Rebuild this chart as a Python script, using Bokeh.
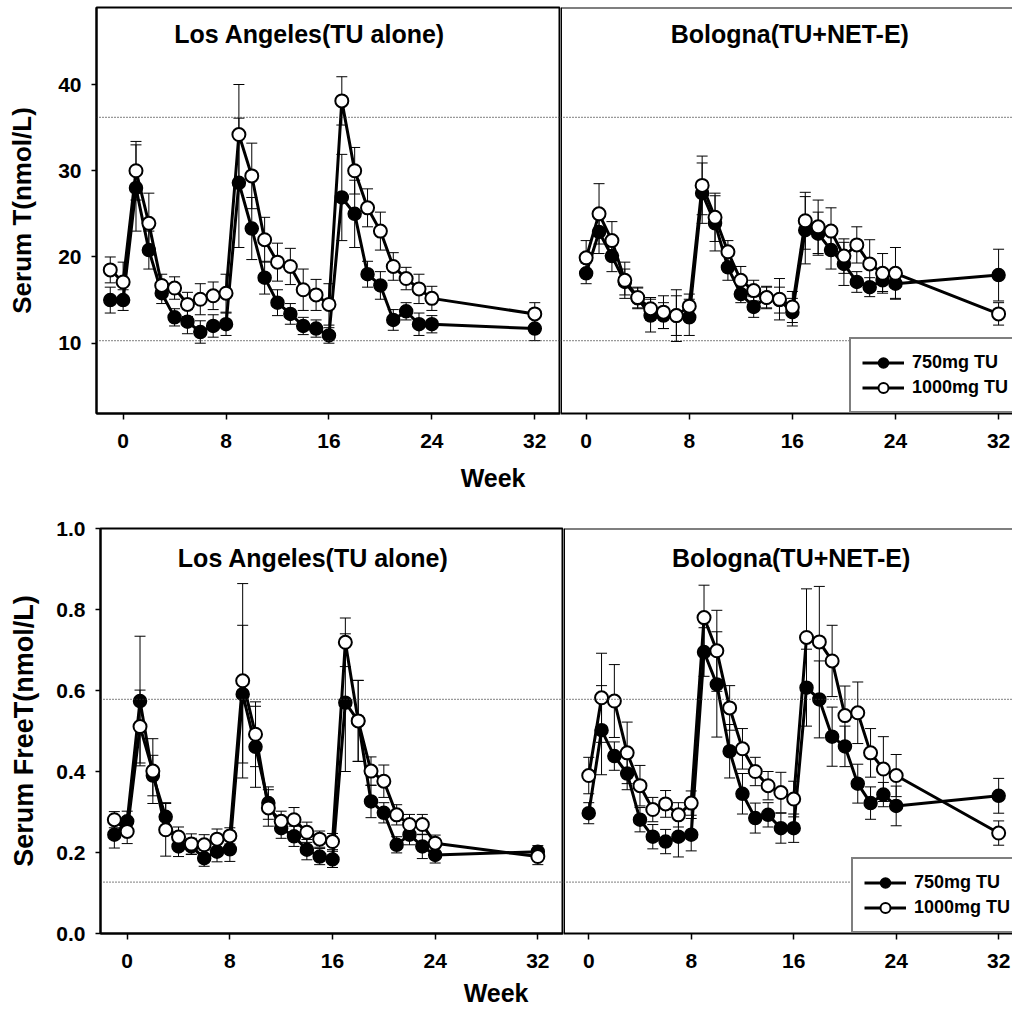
from bokeh.plotting import figure
from bokeh.layouts import column, row
from bokeh.models import (Whisker, ColumnDataSource, Span, Label, Legend, LegendItem, Title,
                          FixedTicker, TeeHead, PrintfTickFormatter)
from bokeh.embed import file_html
from bokeh.resources import INLINE

FONT = "Liberation Sans"

# ---------------- data ----------------
weeks_la = [-1, 0, 1, 2, 3, 4, 5, 6, 7, 8, 9, 10, 11, 12, 13, 14, 15, 16, 17, 18, 19, 20, 21, 22, 23, 24, 32]
weeks_bo = [0, 1, 2, 3, 4, 5, 6, 7, 8, 9, 10, 11, 12, 13, 14, 15, 16, 17, 18, 19, 20, 21, 22, 23, 24, 32]

# Serum T (nmol/L), Los Angeles
t_la_750 = [15.0, 15.0, 28.0, 20.8, 15.8, 13.0, 12.5, 11.3, 12.0, 12.2, 28.6, 23.3, 17.6, 14.7, 13.4, 12.0,
            11.7, 10.9, 26.9, 25.0, 18.0, 16.7, 12.7, 13.7, 12.2, 12.2, 11.7]
t_la_750_se = [1.5, 1.2, 5.0, 2.2, 1.2, 1.0, 1.4, 1.3, 1.3, 1.3, 7.5, 3.6, 1.9, 1.5, 1.2, 1.0,
               1.0, 0.9, 5.0, 3.9, 1.5, 1.6, 1.2, 1.0, 1.3, 1.0, 1.4]
t_la_1000 = [18.5, 17.1, 30.0, 23.9, 16.7, 16.4, 14.5, 15.1, 15.5, 15.8, 34.2, 29.4, 22.0, 19.4, 18.9, 16.2,
             15.6, 14.5, 38.1, 30.0, 25.7, 23.0, 18.9, 17.5, 16.3, 15.2, 13.4]
t_la_1000_se = [1.5, 2.3, 3.4, 3.5, 1.3, 1.3, 1.4, 1.8, 1.6, 2.2, 5.8, 3.8, 2.6, 2.2, 2.1, 2.4,
                1.8, 2.4, 2.8, 2.7, 2.2, 2.2, 1.6, 1.3, 1.7, 1.4, 1.3]

# Serum T (nmol/L), Bologna
t_bo_750 = [18.1, 22.9, 20.1, 17.1, 15.2, 13.2, 13.2, 13.2, 13.0, 27.4, 23.9, 18.8, 15.7, 14.2, 15.3, 15.0,
            13.6, 23.1, 22.7, 20.8, 19.2, 17.1, 16.5, 17.3, 16.9, 17.9]
t_bo_750_se = [1.2, 2.5, 1.8, 1.5, 1.2, 1.9, 1.5, 2.3, 2.1, 3.5, 3.2, 1.5, 1.0, 1.2, 1.2, 1.5,
               1.6, 3.9, 2.5, 2.2, 2.5, 1.2, 1.1, 1.3, 1.7, 3.0]
t_bo_1000 = [19.9, 25.0, 21.9, 17.3, 15.3, 14.0, 13.6, 13.2, 14.3, 28.3, 24.6, 20.6, 17.3, 16.1, 15.3, 15.1,
             14.2, 24.2, 23.5, 23.0, 20.1, 21.4, 19.2, 18.1, 18.1, 13.4]
t_bo_1000_se = [2.0, 3.5, 2.2, 2.1, 1.2, 1.3, 1.9, 3.0, 1.4, 3.4, 2.8, 1.3, 1.6, 1.2, 1.3, 2.4,
                1.8, 3.3, 3.1, 2.7, 2.0, 2.1, 2.8, 2.3, 3.0, 1.3]

# Serum Free T (nmol/L), Los Angeles
ft_la_750 = [0.244, 0.277, 0.574, 0.390, 0.288, 0.215, 0.215, 0.186, 0.202, 0.208, 0.591, 0.461, 0.322, 0.260,
             0.240, 0.207, 0.190, 0.183, 0.570, 0.525, 0.326, 0.298, 0.219, 0.244, 0.215, 0.194, 0.202]
ft_la_750_se = [0.033, 0.025, 0.16, 0.05, 0.035, 0.025, 0.02, 0.02, 0.025, 0.03, 0.17, 0.10, 0.04, 0.025,
                0.025, 0.025, 0.02, 0.02, 0.17, 0.10, 0.04, 0.025, 0.02, 0.025, 0.03, 0.02, 0.015]
ft_la_1000 = [0.281, 0.252, 0.511, 0.401, 0.256, 0.238, 0.221, 0.219, 0.233, 0.241, 0.624, 0.492, 0.310, 0.277,
              0.281, 0.250, 0.233, 0.227, 0.719, 0.525, 0.401, 0.376, 0.293, 0.269, 0.269, 0.223, 0.190]
ft_la_1000_se = [0.02, 0.03, 0.09, 0.08, 0.065, 0.025, 0.025, 0.025, 0.025, 0.02, 0.24, 0.08, 0.045, 0.025,
                 0.03, 0.025, 0.02, 0.02, 0.06, 0.10, 0.035, 0.04, 0.025, 0.025, 0.025, 0.02, 0.02]

# Serum Free T (nmol/L), Bologna
ft_bo_750 = [0.297, 0.502, 0.438, 0.395, 0.281, 0.239, 0.227, 0.239, 0.244, 0.695, 0.615, 0.450, 0.345, 0.285,
             0.293, 0.260, 0.260, 0.607, 0.578, 0.486, 0.462, 0.370, 0.322, 0.343, 0.315, 0.340]
ft_bo_750_se = [0.026, 0.11, 0.035, 0.04, 0.03, 0.03, 0.03, 0.05, 0.04, 0.06, 0.13, 0.066, 0.05, 0.037,
                0.03, 0.037, 0.035, 0.095, 0.095, 0.073, 0.05, 0.048, 0.04, 0.03, 0.049, 0.043]
ft_bo_1000 = [0.390, 0.582, 0.574, 0.446, 0.365, 0.306, 0.320, 0.293, 0.322, 0.780, 0.698, 0.557, 0.456, 0.400,
              0.365, 0.348, 0.332, 0.731, 0.720, 0.673, 0.538, 0.545, 0.446, 0.406, 0.390, 0.248]
ft_bo_1000_se = [0.045, 0.11, 0.09, 0.076, 0.05, 0.03, 0.033, 0.03, 0.03, 0.08, 0.10, 0.055, 0.05, 0.035,
                 0.035, 0.05, 0.044, 0.12, 0.137, 0.088, 0.073, 0.076, 0.06, 0.08, 0.052, 0.03]

t_ref = [36.2, 10.3]
ft_ref = [0.578, 0.127]

x_ticks = [0, 8, 16, 24, 32]
t_ticks = [10, 20, 30, 40]
ft_ticks = [0.0, 0.2, 0.4, 0.6, 0.8, 1.0]

series_labels = ["750mg TU", "1000mg TU"]
titles = ["Los Angeles(TU alone)", "Bologna(TU+NET-E)"]
x_title = "Week"


def style_xaxis(p):
    ax = p.xaxis[0]
    ax.ticker = FixedTicker(ticks=x_ticks)
    ax.minor_tick_line_color = None
    ax.major_tick_in = 0
    ax.major_tick_out = 6
    ax.major_tick_line_width = 1.5
    ax.major_tick_line_color = "black"
    ax.axis_line_width = 2
    ax.axis_line_color = "black"
    ax.major_label_standoff = 14
    ax.major_label_text_font = FONT
    ax.major_label_text_font_size = "21px"
    ax.major_label_text_font_style = "bold"
    ax.major_label_text_color = "black"


def make_panel(width, height, xr, yr, mb_left, mb_top, mb_bottom, left, ylabel=None, yticks=None,
               yfmt=None, label_standoff=16, label_size="26px"):
    p = figure(width=width, height=height, x_range=xr, y_range=yr, output_backend="svg",
               toolbar_location=None, min_border=0, min_border_left=mb_left, min_border_right=0,
               min_border_top=mb_top, min_border_bottom=mb_bottom,
               y_axis_location="left" if left else None)
    p.xgrid.visible = False
    p.ygrid.visible = False
    p.background_fill_color = "white"
    p.border_fill_color = "white"
    if left:
        p.outline_line_color = "black"
        p.outline_line_width = 2
        ay = p.yaxis[0]
        ay.ticker = FixedTicker(ticks=yticks)
        if yfmt:
            ay.formatter = PrintfTickFormatter(format=yfmt)
        ay.minor_tick_line_color = None
        ay.major_tick_in = 0
        ay.major_tick_out = 5
        ay.major_tick_line_width = 1.5
        ay.axis_line_width = 2
        ay.axis_line_color = "black"
        ay.major_label_standoff = 10
        ay.major_label_text_font = FONT
        ay.major_label_text_font_size = "21px"
        ay.major_label_text_font_style = "bold"
        ay.major_label_text_color = "black"
        ay.axis_label = ylabel
        ay.axis_label_text_font = FONT
        ay.axis_label_text_font_size = label_size
        ay.axis_label_text_font_style = "bold"
        ay.axis_label_text_color = "black"
        ay.axis_label_standoff = label_standoff
    else:
        p.outline_line_color = None
        p.add_layout(Span(location=yr[1], dimension="width", line_color="black", line_width=2))
        p.add_layout(Span(location=xr[0], dimension="height", line_color="black", line_width=3))
    style_xaxis(p)
    return p


def add_series(p, weeks, y750, se750, y1000, se1000, refs):
    for r in refs:
        p.add_layout(Span(location=r, dimension="width", line_color="#333333", line_width=1.2,
                          line_dash="1 2"))
    for ys, se in ((y750, se750), (y1000, se1000)):
        src = ColumnDataSource(dict(x=weeks, lo=[a - b for a, b in zip(ys, se)],
                                    hi=[a + b for a, b in zip(ys, se)]))
        p.add_layout(Whisker(source=src, base="x", upper="hi", lower="lo", line_color="black",
                             line_width=1,
                             upper_head=TeeHead(size=11, line_color="black", line_width=1),
                             lower_head=TeeHead(size=11, line_color="black", line_width=1)))
    lf = p.line(weeks, y750, line_width=3, line_color="black")
    sf = p.scatter(weeks, y750, marker="circle", size=13, fill_color="black", line_color="black",
                   line_width=1.5)
    lo = p.line(weeks, y1000, line_width=3, line_color="black")
    so = p.scatter(weeks, y1000, marker="circle", size=13, fill_color="white", line_color="black",
                   line_width=2)
    return [lf, sf], [lo, so]


def add_title(p, x, y, text):
    p.add_layout(Label(x=x, y=y, text=text, text_align="center", text_baseline="middle",
                       text_font=FONT, text_font_size="25px", text_font_style="bold",
                       text_color="black"))


def add_week(p, offset, standoff):
    p.add_layout(Title(text=x_title, align="right", offset=offset, standoff=standoff,
                       text_font=FONT, text_font_size="25px", text_font_style="bold",
                       text_color="black"), "below")


def add_legend(p, xoff, r750, r1000):
    leg = Legend(items=[LegendItem(label=series_labels[0], renderers=r750),
                        LegendItem(label=series_labels[1], renderers=r1000)],
                 location=(xoff, 0), margin=0, padding=11, spacing=0,
                 glyph_width=42, glyph_height=25, label_height=25, label_standoff=8,
                 label_text_font=FONT, label_text_font_size="18px", label_text_font_style="bold",
                 label_text_color="black", border_line_color="black", border_line_width=2,
                 background_fill_color="white", background_fill_alpha=1.0)
    p.add_layout(leg)


# ---------------- top row: Serum T ----------------
t_yr = (1.85, 48.93)
tl = make_panel(560, 511, (-2.07, 34.0), t_yr, 96, 7, 98, True, "Serum T(nmol/L)", t_ticks,
                label_standoff=18, label_size="26px")
add_series(tl, weeks_la, t_la_750, t_la_750_se, t_la_1000, t_la_1000_se, t_ref)
add_title(tl, 14.5, 45.9, titles[0])
add_week(tl, 35, 23)

tr = make_panel(452, 511, (-1.99, 33.08), t_yr, 0, 7, 98, False)
r750, r1000 = add_series(tr, weeks_bo, t_bo_750, t_bo_750_se, t_bo_1000, t_bo_1000_se, t_ref)
add_title(tr, 15.8, 45.9, titles[1])
add_legend(tr, 289, r750, r1000)

# ---------------- bottom row: Serum Free T ----------------
ft_yr = (0.0, 1.0)
bl = make_panel(563, 502, (-2.08, 34.0), ft_yr, 100, 17, 80, True, "Serum FreeT(nmol/L)", ft_ticks,
                yfmt="%.1f", label_standoff=14, label_size="27px")
add_series(bl, weeks_la, ft_la_750, ft_la_750_se, ft_la_1000, ft_la_1000_se, ft_ref)
add_title(bl, 14.5, 0.928, titles[0])
add_week(bl, 35, 12)

br = make_panel(449, 502, (-1.97, 33.08), ft_yr, 0, 17, 80, False)
r750b, r1000b = add_series(br, weeks_bo, ft_bo_750, ft_bo_750_se, ft_bo_1000, ft_bo_1000_se, ft_ref)
add_title(br, 15.8, 0.928, titles[1])
add_legend(br, 288, r750b, r1000b)

layout = column(row(tl, tr), row(bl, br))

open("out.html", "w").write(file_html(layout, INLINE))
